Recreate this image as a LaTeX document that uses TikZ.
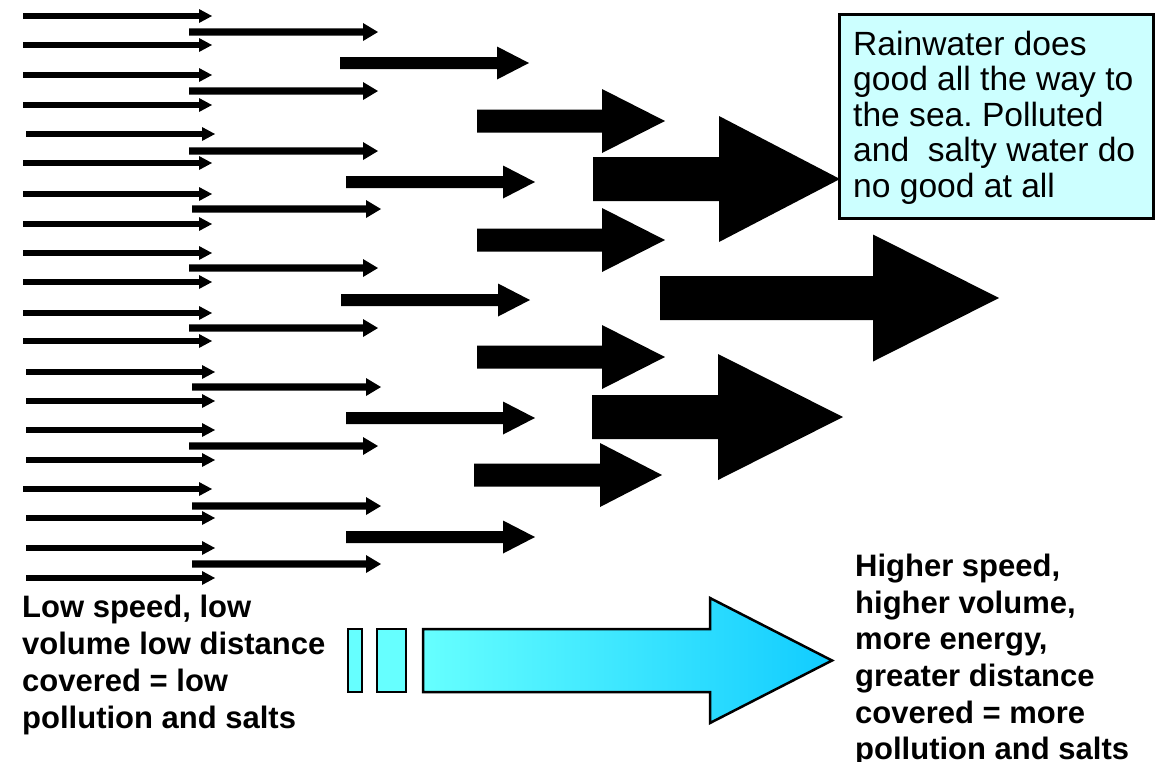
\documentclass[tikz,border=0pt]{standalone}
\usepackage{fontspec}
\setmainfont{Liberation Sans}
\frenchspacing
\definecolor{notefill}{HTML}{CCFFFF}
\definecolor{cyanlight}{HTML}{66FFFF}
\definecolor{cyandark}{HTML}{11CCFF}
% #1 start x, #2 head base x, #3 tip x, #4 centre y, #5 shaft half width, #6 head half width
\newcommand\flowarrow[6]{%
  \fill (#1,#4-#5) -- (#2,#4-#5) -- (#2,#4-#6) -- (#3,#4) -- (#2,#4+#6) -- (#2,#4+#5) -- (#1,#4+#5) -- cycle;}
\begin{document}
\begin{tikzpicture}[x=1pt,y=-1pt,
  notebox/.style={draw=black, line width=3pt, fill=notefill, anchor=north west,
    outer sep=0pt, inner sep=0pt, minimum width=314pt, minimum height=204pt},
  notetext/.style={anchor=north west, align=left, inner sep=0pt,
    font=\fontsize{33.6}{35.6}\selectfont},
  boldtext/.style={anchor=north west, align=left, inner sep=0pt,
    font=\fontsize{31}{37}\selectfont\bfseries},
  cyanbox/.style={draw=black, line width=2.5pt, fill=cyanlight}]
\useasboundingbox (0,0) rectangle (1157,761);
% column 1: thin arrows
\foreach \y/\s in {16/23,45/23,75/23,105/23,134/26,163/23,194/23,224/23,253/23,282/23,
                   313/23,341/23,372/26,401/26,430/26,460/26,489/23,518/26,548/26,578/26}{
  \flowarrow{\s}{\s+176}{\s+189}{\y}{2.8}{7}
}
% column 2
\foreach \y/\s in {32/189,91/189,151/189,209/192,268/189,328/189,387/192,446/189,506/192,564/192}{
  \flowarrow{\s}{\s+174}{\s+189}{\y}{3.6}{9}
}
% column 3
\foreach \y/\s in {63/340,182/346,300/341,418/346,537/346}{
  \flowarrow{\s}{\s+157}{\s+189}{\y}{6}{16.5}
}
% column 4
\flowarrow{477}{602}{665}{121}{11.5}{32}
\flowarrow{477}{602}{665}{240}{11.5}{32}
\flowarrow{477}{602}{665}{357}{11.5}{32}
\flowarrow{474}{600}{662}{475}{11.5}{32}
% column 5
\flowarrow{593}{719}{840}{179}{22}{63}
\flowarrow{592}{718}{843}{417}{22}{63}
% column 6
\flowarrow{660}{873}{999}{298}{22}{63.5}
% note box
\node[notebox] (note) at (839.5,14.5) {};
\node[notetext] (notetext) at (853,30.5) {Rainwater does\\good all the way to\\the sea. Polluted\\and~ salty water do\\no good at all};
% bottom left text
\node[boldtext] (lowtext) at (22,594.5) {Low speed, low\\volume low distance\\covered = low\\pollution and salts};
% bottom right text
\node[boldtext, font=\fontsize{31}{36.6}\selectfont\bfseries] (hightext) at (855,554) {Higher speed,\\higher volume,\\more energy,\\greater distance\\covered = more\\pollution and salts};
% small cyan boxes
\draw[cyanbox] (348,629) rectangle (362,692);
\draw[cyanbox] (377,629) rectangle (406,692);
% big gradient arrow
\draw[line width=2.5pt, left color=cyanlight, right color=cyandark, line join=miter]
  (423,629) -- (710,629) -- (710,598) -- (832,660.5) -- (710,723) -- (710,692) -- (423,692) -- cycle;
\end{tikzpicture}
\end{document}
